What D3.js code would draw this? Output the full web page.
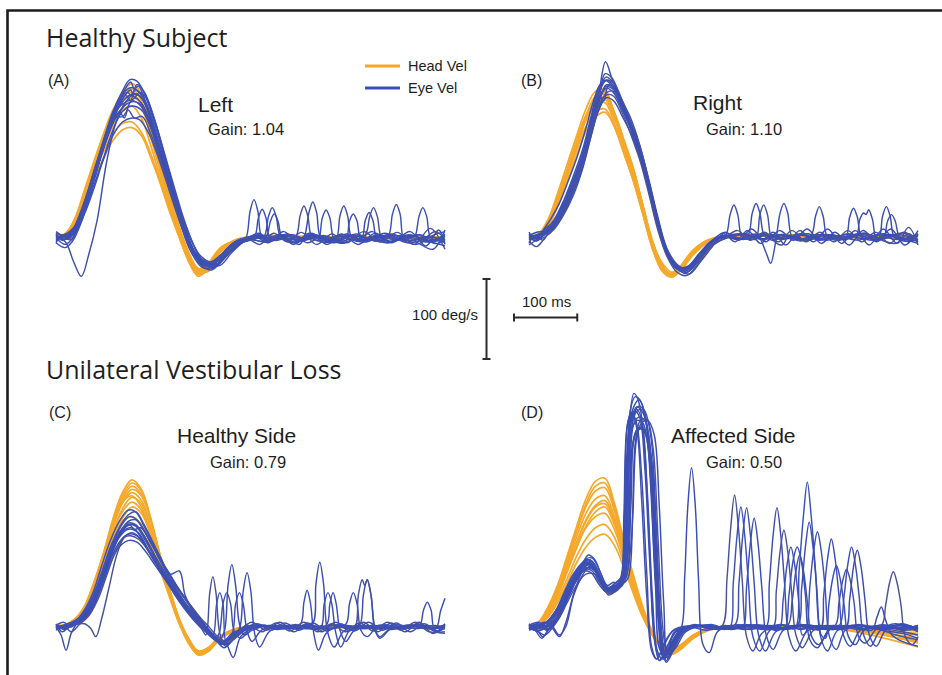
<!DOCTYPE html>
<html><head><meta charset="utf-8">
<script src="https://cdn.jsdelivr.net/npm/d3@7"></script>
<style>
html,body{margin:0;padding:0;background:#fff;}
svg{display:block;}
text{font-family:"Liberation Sans",Arial,Helvetica,sans-serif;fill:#1e1e1e;}
.grp{font-family:"Open Sans","Noto Sans",sans-serif;}
</style></head><body>
<svg id="chart" width="942" height="675"></svg>
<script>
// ---------------- DATA (time in ms, velocity in deg/s) ----------------
const groupTitles = ["Healthy Subject", "Unilateral Vestibular Loss"];
const panelLetters = ["(A)", "(B)", "(C)", "(D)"];
const panelTitles = ["Left", "Right", "Healthy Side", "Affected Side"];
const panelGains = ["1.04", "1.10", "0.79", "0.50"];
const legendLabels = ["Head Vel", "Eye Vel"];
const scaleBarVelocity = 100; // deg/s
const scaleBarTime = 100;     // ms

// shared sample times for head velocity traces
const headTime = [0,15,30,45,60,75,90,105,120,135,150,165,180,195,210,225,240,260,285,320,400,500,615];

const headA = [
  [3,5,22,55,90,125,158,182,193,180,140,95,52,12,-22,-45,-40,-18,-4,2,0,-1,0],
  [0,2,18,48,84,120,152,176,188,178,142,98,55,15,-18,-40,-42,-22,-6,0,2,0,1],
  [2,4,25,60,96,130,160,178,182,165,125,82,40,2,-30,-48,-38,-15,-2,3,1,0,-2],
  [-1,3,15,42,76,110,140,163,175,168,135,92,50,10,-25,-42,-35,-14,-3,1,-1,1,0],
  [1,6,24,56,88,118,145,160,165,150,115,75,35,0,-28,-44,-36,-16,-5,2,0,-1,1],
  [0,4,20,50,80,108,130,143,145,132,105,70,35,5,-20,-38,-34,-15,-2,1,2,0,0],
  [2,3,16,44,74,100,122,135,138,128,100,68,32,2,-24,-40,-32,-12,-3,0,0,1,-1],
  [1,3,20,52,86,122,154,176,186,172,134,90,48,8,-26,-46,-40,-17,-4,1,1,0,-1],
  [0,5,23,57,92,126,156,172,178,168,132,88,45,6,-24,-43,-37,-16,-3,2,0,1,0]
];
const headB = [
  [0,2,18,48,82,118,152,176,182,155,120,85,38,-8,-38,-50,-42,-22,-6,2,3,1,0],
  [2,4,22,54,90,126,160,182,184,152,112,76,30,-14,-42,-50,-38,-18,-4,3,2,0,1],
  [-2,1,14,42,76,112,146,168,175,150,116,80,36,-8,-36,-48,-40,-20,-5,1,2,-1,0],
  [0,3,18,46,80,114,146,164,168,142,106,70,28,-14,-40,-48,-36,-16,-3,2,1,0,-2],
  [1,2,15,42,76,108,138,156,160,138,104,70,30,-10,-36,-46,-36,-16,-4,1,2,1,1],
  [0,1,12,38,70,102,132,150,156,138,108,76,36,-6,-32,-44,-38,-18,-4,3,1,0,0],
  [1,3,20,50,84,120,152,172,178,154,118,84,40,-4,-34,-49,-41,-20,-5,2,2,1,-1],
  [0,2,16,44,78,114,148,170,180,156,122,86,40,-6,-36,-49,-40,-21,-6,2,2,1,1],
  [1,3,17,46,80,115,147,166,172,148,114,78,34,-10,-38,-48,-38,-18,-4,2,1,0,-1]
];
const headC = [
  [2,3,10,25,55,92,135,168,184,172,135,88,45,8,-18,-34,-30,-14,-3,1,0,-1,0],
  [0,2,8,22,50,86,128,160,176,166,132,88,46,10,-16,-32,-30,-15,-4,0,1,0,1],
  [1,2,9,24,52,88,126,155,168,158,124,82,42,6,-20,-35,-30,-13,-2,1,0,1,-1],
  [-1,1,7,20,46,80,118,148,162,154,122,82,44,8,-17,-33,-28,-12,-3,0,1,0,0],
  [0,3,10,26,56,92,130,156,164,150,116,76,38,4,-21,-34,-28,-12,-2,1,-1,0,1],
  [1,2,8,22,48,82,118,144,156,146,116,78,40,6,-18,-32,-28,-13,-3,0,0,0,-1],
  [0,1,6,18,42,74,110,136,150,142,114,78,42,8,-15,-30,-27,-12,-3,1,0,1,0],
  [0,2,8,20,44,78,112,132,138,128,102,70,36,4,-18,-30,-26,-11,-2,0,1,0,0],
  [1,2,9,24,53,90,132,164,180,170,134,88,44,6,-19,-35,-31,-14,-3,1,0,0,0],
  [0,2,7,21,47,84,124,156,172,164,132,88,46,10,-15,-31,-29,-14,-3,0,1,0,1]
];
const headD = [
  [0,6,25,52,88,125,160,182,186,155,108,65,25,-5,-25,-34,-28,-14,-4,0,-1,-3,-8],
  [1,5,22,48,82,118,150,170,174,145,100,60,22,-8,-26,-33,-27,-13,-3,0,0,-2,-14],
  [0,4,20,44,78,112,142,160,164,138,96,56,20,-8,-25,-32,-26,-12,-3,1,0,-1,-20],
  [-1,4,18,42,74,106,134,152,158,134,94,55,18,-9,-26,-32,-25,-11,-2,0,-1,-2,-2],
  [0,3,16,38,68,98,126,144,150,128,90,52,16,-10,-26,-31,-24,-11,-3,0,0,-4,-25],
  [1,5,20,42,70,100,124,138,142,122,86,50,15,-10,-25,-30,-24,-10,-2,1,0,-1,-5],
  [0,3,14,34,60,88,110,124,128,112,80,46,14,-10,-24,-29,-23,-10,-2,0,1,-1,0],
  [0,2,12,30,54,80,100,112,116,102,74,42,12,-10,-23,-28,-22,-10,-2,0,0,0,-3],
  [0,5,22,47,84,120,154,176,180,150,104,62,22,-8,-26,-34,-27,-13,-3,0,0,-2,-10],
  [1,4,18,40,72,104,132,150,154,131,92,54,17,-9,-25,-31,-25,-11,-2,0,0,-3,-18]
];

// Eye velocity traces: flat [t, v, t, v, ...]
const eyeA = [
  [0,3, 12,-2, 25,8, 40,35, 55,70, 70,108, 85,145, 100,172, 112,182, 120,178, 128,192, 140,182, 155,150, 170,108, 185,65, 200,22, 215,-12, 230,-30, 245,-35, 262,-22, 280,-6, 293,-1, 300,0, 307,34, 313,48, 319,34, 326,0, 340,-4, 365,5, 390,-3, 410,4, 440,-5, 470,3, 500,-2, 530,5, 560,-4, 590,2, 615,-6],
  [0,-4, 15,5, 30,10, 45,38, 60,75, 75,112, 90,148, 105,170, 120,180, 132,178, 145,160, 160,125, 175,85, 190,42, 205,5, 220,-22, 238,-38, 255,-30, 275,-12, 300,-3, 320,2, 329,2, 336,27, 342,38, 348,27, 355,2, 370,-3, 385,-8, 393,2, 400,32, 406,45, 412,32, 419,0, 440,-6, 465,2, 490,-3, 520,6, 545,-2, 570,-8, 595,3, 615,8],
  [0,5, 10,-3, 22,4, 35,20, 50,50, 65,90, 80,130, 95,160, 110,178, 118,172, 125,185, 138,175, 152,142, 167,100, 182,58, 197,18, 212,-15, 228,-33, 246,-40, 265,-26, 285,-9, 310,-2, 335,3, 360,-2, 379,2, 386,28, 392,40, 398,28, 405,0, 420,-4, 445,3, 470,-2, 489,4, 496,27, 502,38, 508,27, 515,0, 530,-5, 560,3, 590,-3, 615,4],
  [0,0, 15,-8, 28,2, 42,28, 58,68, 72,105, 88,140, 102,160, 118,170, 132,168, 146,148, 160,115, 176,75, 192,36, 208,0, 224,-24, 240,-32, 258,-25, 278,-8, 300,-1, 325,-4, 350,3, 375,-5, 400,2, 414,-3, 421,25, 427,35, 433,25, 440,-2, 455,-6, 480,3, 505,-4, 525,2, 532,30, 538,42, 544,30, 551,-3, 570,4, 600,-7, 615,-3],
  [0,2, 15,-5, 28,-30, 40,-48, 52,-20, 65,22, 80,95, 95,145, 110,170, 125,180, 138,172, 152,140, 167,98, 182,55, 198,15, 214,-18, 230,-36, 248,-38, 268,-20, 290,-5, 320,2, 345,-3, 370,4, 395,-2, 420,3, 442,-2, 449,28, 455,40, 461,28, 468,0, 490,-5, 515,3, 540,-2, 560,3, 567,2, 574,27, 580,38, 586,27, 593,0, 615,-4],
  [0,-2, 14,3, 28,12, 44,42, 60,80, 75,118, 90,155, 105,180, 118,195, 124,186, 130,190, 142,170, 156,135, 172,92, 188,48, 203,10, 218,-20, 234,-34, 252,-30, 272,-12, 295,-3, 320,4, 332,2, 339,21, 345,30, 351,21, 358,0, 380,-6, 405,3, 430,-4, 460,5, 482,-3, 489,22, 495,32, 501,22, 508,-2, 525,-6, 555,2, 585,-5, 615,3],
  [0,6, 15,2, 30,8, 45,32, 60,66, 75,100, 90,135, 105,158, 120,165, 135,160, 150,138, 165,100, 180,62, 196,24, 212,-10, 228,-28, 244,-30, 262,-20, 282,-6, 305,-1, 330,-5, 355,2, 380,-3, 405,4, 430,-2, 457,-6, 464,21, 470,30, 476,21, 483,-3, 505,2, 530,-4, 558,4, 585,-3, 615,-10],
  [0,-3, 15,4, 30,15, 46,45, 62,85, 78,125, 92,155, 106,168, 120,172, 134,165, 148,142, 163,105, 178,65, 194,28, 210,-6, 226,-26, 242,-36, 260,-30, 280,-14, 300,-4, 325,0, 350,-3, 375,3, 398,-6, 420,2, 445,-3, 475,5, 500,-2, 525,3, 555,-6, 580,-2, 600,8, 615,-2],
  [0,1, 15,-1, 30,6, 45,30, 60,62, 75,98, 90,128, 105,145, 120,150, 132,148, 146,132, 162,100, 178,62, 194,24, 210,-8, 226,-28, 244,-34, 262,-22, 282,-6, 308,2, 335,-2, 362,3, 388,-4, 412,2, 438,-3, 465,2, 492,-4, 520,3, 548,-2, 575,4, 600,-4, 615,2],
  [0,4, 15,-2, 30,10, 45,38, 60,76, 75,112, 90,146, 104,172, 118,185, 124,176, 132,182, 142,176, 155,150, 170,110, 186,66, 202,24, 218,-10, 234,-30, 252,-34, 272,-18, 295,-4, 320,3, 345,-2, 372,4, 398,-2, 424,3, 450,-4, 478,2, 505,-3, 532,4, 560,-3, 588,2, 615,-3],
  [0,-1, 15,2, 30,14, 45,44, 60,84, 75,122, 90,158, 104,182, 117,198, 128,196, 140,180, 154,148, 170,104, 186,58, 202,18, 218,-16, 234,-34, 252,-36, 272,-20, 295,-5, 313,0, 320,25, 326,36, 332,25, 339,0, 360,4, 385,-3, 410,2, 435,-5, 460,3, 485,-2, 510,4, 538,-3, 565,2, 592,-5, 615,5],
  [0,-6, 10,4, 20,-2, 32,14, 46,40, 60,72, 74,110, 88,140, 100,158, 108,150, 116,168, 126,175, 138,165, 152,138, 166,104, 180,70, 194,34, 208,2, 222,-20, 238,-30, 256,-32, 274,-18, 292,-6, 312,3, 335,-6, 355,4, 375,-8, 400,6, 425,-6, 452,5, 478,-8, 505,6, 530,-6, 560,8, 585,-10, 605,10, 615,-8],
  [0,8, 12,2, 25,-2, 38,22, 52,58, 66,96, 80,128, 94,150, 106,152, 114,160, 124,150, 136,152, 150,130, 165,96, 180,62, 196,30, 212,0, 228,-22, 244,-30, 262,-26, 280,-12, 300,0, 322,-8, 344,6, 366,-5, 388,7, 412,-8, 436,5, 460,-6, 486,8, 512,-5, 540,7, 566,-8, 592,12, 615,-14],
  [0,-6, 14,-12, 26,-4, 40,20, 54,56, 68,94, 82,132, 96,162, 110,184, 120,188, 134,180, 148,158, 162,120, 178,80, 194,40, 210,6, 226,-22, 242,-34, 260,-34, 278,-18, 298,-4, 320,6, 340,-2, 360,8, 382,-4, 405,6, 428,-8, 452,4, 476,-4, 500,8, 524,-6, 548,4, 572,-6, 596,-14, 615,10]
];
const eyeB = [
  [0,0, 12,-5, 25,4, 40,16, 55,36, 70,62, 85,98, 98,140, 110,178, 121,219, 132,196, 146,172, 160,150, 174,118, 188,74, 202,24, 216,-14, 232,-36, 248,-42, 265,-28, 285,-8, 300,-1, 311,2, 318,28, 324,40, 330,28, 337,0, 350,-3, 380,3, 410,-2, 440,4, 470,-4, 500,3, 530,-2, 560,4, 590,-3, 615,2],
  [0,-4, 12,2, 25,6, 40,14, 55,32, 70,60, 85,92, 98,132, 110,166, 122,190, 134,186, 148,160, 162,136, 176,106, 190,64, 204,18, 218,-18, 234,-38, 250,-40, 268,-24, 288,-6, 310,0, 330,-3, 346,2, 353,30, 359,42, 365,30, 372,2, 385,-4, 410,2, 440,-3, 470,3, 500,-2, 530,5, 552,-3, 559,26, 565,38, 571,26, 578,0, 600,-5, 615,4],
  [0,3, 12,-2, 25,10, 40,20, 55,44, 70,72, 85,104, 98,146, 110,182, 122,200, 134,192, 148,166, 162,140, 176,110, 190,68, 204,22, 218,-16, 234,-36, 250,-44, 268,-30, 288,-10, 310,-2, 335,4, 358,-3, 365,28, 371,40, 377,28, 384,-2, 400,-10, 412,2, 440,-4, 470,2, 500,-3, 530,4, 560,-2, 590,5, 615,-4],
  [0,-10, 12,-4, 25,0, 40,10, 55,28, 70,52, 85,86, 98,126, 110,160, 122,180, 134,182, 148,162, 162,134, 176,102, 190,60, 204,12, 218,-22, 234,-40, 250,-38, 268,-22, 288,-5, 310,2, 335,-2, 360,3, 375,-20, 382,-33, 390,-6, 397,30, 403,42, 409,30, 416,0, 430,-4, 455,3, 480,-2, 505,4, 530,-3, 560,3, 590,-2, 615,-5],
  [0,2, 12,6, 25,8, 40,22, 55,46, 70,76, 85,110, 98,150, 110,186, 120,196, 132,188, 146,164, 160,138, 174,106, 188,66, 202,20, 216,-18, 232,-38, 248,-40, 266,-26, 286,-8, 310,1, 340,4, 370,-2, 400,3, 425,-3, 446,2, 453,26, 459,38, 465,26, 472,0, 490,-4, 520,2, 550,-4, 580,3, 615,-3],
  [0,-3, 12,0, 25,5, 40,15, 55,34, 70,62, 85,95, 98,136, 110,170, 122,186, 134,180, 148,158, 162,132, 176,100, 190,58, 204,14, 218,-20, 234,-40, 250,-44, 268,-28, 288,-8, 310,0, 340,-2, 370,2, 400,-3, 430,2, 460,-2, 480,3, 500,-2, 507,25, 513,36, 519,25, 526,0, 545,-4, 575,3, 600,-6, 615,2],
  [0,1, 12,-2, 25,3, 40,12, 55,30, 70,56, 85,88, 98,126, 110,158, 122,174, 134,170, 148,150, 162,128, 176,98, 190,56, 204,12, 218,-20, 234,-36, 250,-38, 268,-24, 288,-6, 310,1, 340,-3, 370,4, 400,-2, 430,3, 460,-4, 490,2, 516,-3, 523,22, 529,30, 533,28, 537,34, 543,22, 550,-2, 570,3, 600,-4, 615,-8],
  [0,-2, 12,3, 25,7, 40,18, 55,40, 70,70, 85,104, 98,144, 110,178, 122,196, 134,192, 148,170, 162,142, 176,112, 190,70, 204,24, 218,-14, 234,-34, 250,-40, 268,-28, 288,-10, 310,-2, 340,3, 370,-3, 400,2, 430,-5, 460,3, 490,-3, 520,4, 550,-2, 580,-8, 600,4, 615,-6],
  [0,4, 12,0, 25,6, 40,16, 55,38, 70,66, 85,100, 98,140, 110,172, 122,188, 134,184, 148,162, 162,136, 176,104, 190,62, 204,16, 218,-18, 234,-38, 250,-42, 268,-26, 288,-6, 310,2, 340,-2, 370,3, 400,-2, 430,4, 460,-3, 490,2, 520,-4, 550,3, 580,-3, 615,3],
  [0,-1, 12,2, 25,4, 40,14, 55,32, 70,58, 85,92, 98,132, 110,168, 120,204, 132,198, 146,170, 160,142, 174,110, 188,68, 202,20, 216,-16, 232,-36, 248,-40, 266,-26, 286,-8, 310,0, 340,2, 370,-3, 400,3, 430,-2, 460,3, 490,-2, 520,3, 545,-3, 560,-2, 567,20, 573,28, 579,20, 586,0, 600,-3, 615,4],
  [0,-8, 10,2, 22,-4, 34,12, 48,30, 62,52, 76,82, 90,118, 102,156, 112,176, 118,170, 126,190, 138,182, 152,158, 166,130, 180,96, 194,54, 208,8, 222,-26, 238,-42, 254,-46, 272,-30, 290,-12, 308,4, 326,-6, 346,8, 366,-8, 386,6, 406,-10, 428,8, 450,-6, 472,10, 494,-8, 516,8, 538,-10, 560,10, 582,-8, 600,12, 615,-10],
  [0,6, 10,-4, 22,8, 34,22, 48,42, 62,70, 76,100, 90,136, 102,170, 112,190, 124,196, 136,186, 150,162, 164,134, 178,100, 192,58, 206,14, 220,-20, 236,-38, 252,-36, 270,-20, 290,-4, 310,6, 332,-4, 352,10, 374,-6, 396,8, 418,-4, 440,10, 462,-8, 484,6, 506,-10, 528,8, 550,-6, 572,10, 594,-10, 615,8],
  [0,-5, 12,-12, 24,-2, 36,10, 50,24, 64,46, 78,76, 92,112, 104,148, 114,170, 124,178, 134,176, 148,154, 162,126, 176,94, 190,52, 204,8, 218,-24, 234,-44, 250,-48, 268,-32, 288,-12, 308,-2, 330,8, 350,-4, 372,6, 394,-6, 416,8, 438,-6, 460,6, 482,-6, 504,8, 526,-6, 548,6, 570,-8, 592,6, 615,-6]
];
const eyeC = [
  [0,2, 14,-3, 28,4, 42,10, 56,22, 70,48, 84,82, 98,110, 112,126, 124,128, 136,118, 150,98, 164,78, 178,60, 192,42, 206,26, 220,10, 234,-4, 248,-14, 262,-20, 278,-12, 295,-2, 320,2, 350,-3, 380,2, 410,-2, 440,3, 470,-2, 500,2, 530,-3, 560,2, 590,-2, 615,1],
  [0,0, 8,-10, 16,-29, 24,-8, 34,5, 48,12, 62,30, 76,62, 90,96, 104,118, 118,124, 130,118, 144,100, 158,80, 172,62, 186,46, 200,30, 214,14, 228,2, 244,-10, 258,-16, 266,-6, 272,52, 278,78, 284,52, 290,4, 298,-10, 310,-4, 340,2, 370,-2, 400,3, 430,-3, 460,2, 490,-2, 520,3, 550,-2, 580,2, 615,-1],
  [0,-1, 15,2, 30,3, 45,4, 55,-2, 63,-12, 72,10, 84,50, 96,90, 108,112, 120,118, 132,112, 146,95, 160,76, 174,58, 188,40, 202,24, 216,10, 230,-2, 237,-10, 243,42, 248,63, 253,42, 259,-8, 268,-24, 280,-14, 296,-3, 320,2, 350,-2, 380,3, 410,-3, 440,2, 470,-2, 500,2, 530,-2, 560,3, 590,-2, 615,2],
  [0,3, 15,0, 30,6, 44,14, 58,32, 72,60, 86,92, 100,116, 114,132, 126,134, 138,122, 152,102, 166,82, 180,64, 194,46, 208,30, 222,14, 236,0, 248,-10, 254,29, 259,43, 264,29, 270,-22, 282,-14, 300,-3, 330,2, 360,-2, 386,3, 392,31, 397,46, 402,31, 408,-10, 415,-29, 427,-8, 450,2, 480,-2, 510,2, 540,-2, 570,3, 600,-2, 615,2],
  [0,-2, 15,3, 30,8, 44,18, 58,38, 72,68, 86,100, 100,124, 114,140, 126,144, 138,130, 152,108, 166,86, 180,66, 195,70, 204,40, 218,18, 232,2, 246,-10, 262,-22, 278,-10, 284,29, 290,43, 296,29, 302,-5, 310,-18, 325,-4, 350,2, 380,-2, 405,3, 411,54, 417,81, 423,54, 429,-5, 440,-25, 454,-6, 480,2, 510,-2, 540,3, 570,-2, 600,2, 615,-2],
  [0,1, 15,-2, 30,5, 44,12, 58,30, 72,58, 86,90, 100,112, 114,122, 126,120, 140,104, 154,86, 168,68, 182,52, 196,36, 210,20, 224,6, 238,-6, 252,-16, 266,-22, 280,-10, 290,-2, 296,45, 302,68, 308,45, 314,-8, 322,-25, 337,-6, 360,2, 390,-2, 427,2, 433,29, 438,43, 443,29, 449,-4, 458,-18, 472,-4, 500,2, 530,-2, 560,2, 575,2, 581,21, 587,31, 593,21, 599,-4, 615,-2],
  [0,0, 15,2, 30,4, 44,10, 58,26, 72,52, 86,84, 100,106, 114,116, 128,114, 142,100, 156,82, 170,64, 184,48, 198,32, 212,16, 226,4, 240,-8, 254,-18, 268,-20, 280,-38, 292,-12, 310,-2, 340,2, 370,-2, 400,2, 430,-2, 458,3, 464,29, 470,43, 476,29, 482,-4, 492,-12, 510,2, 540,-2, 570,2, 600,-2, 608,20, 615,36],
  [0,2, 15,-1, 30,6, 44,16, 58,34, 72,64, 86,96, 100,118, 114,130, 126,128, 138,116, 152,96, 166,76, 180,58, 194,42, 208,26, 222,12, 236,0, 250,-12, 264,-20, 278,-10, 296,-2, 320,3, 350,-2, 380,2, 410,-3, 440,2, 471,-2, 478,40, 484,59, 488,52, 492,59, 498,40, 505,-4, 512,-12, 528,-2, 555,2, 585,-2, 615,1],
  [0,-1, 15,3, 30,7, 44,20, 58,42, 72,76, 86,108, 100,132, 114,146, 126,144, 138,128, 152,106, 166,84, 180,66, 194,48, 208,32, 222,16, 236,2, 250,-10, 264,-18, 278,-8, 296,-2, 325,2, 355,-2, 385,2, 415,-2, 445,3, 475,-2, 505,2, 535,-2, 565,2, 595,-2, 615,0],
  [0,1, 15,-1, 30,3, 44,8, 58,24, 72,50, 86,80, 100,100, 114,108, 128,106, 142,94, 156,78, 170,62, 184,46, 198,30, 212,16, 226,4, 240,-6, 252,-14, 258,-8, 264,29, 270,43, 276,29, 282,-6, 292,-14, 307,-3, 330,2, 360,-2, 390,2, 418,-2, 424,29, 430,43, 436,29, 442,-6, 450,-25, 464,-4, 480,2, 486,40, 492,59, 498,40, 504,-3, 512,-14, 530,-2, 560,2, 590,-2, 615,3],
  [0,-3, 15,0, 30,5, 44,14, 58,34, 72,62, 86,94, 100,118, 114,128, 126,126, 140,110, 154,90, 168,70, 182,54, 196,38, 210,24, 224,8, 238,-4, 252,-14, 266,-22, 280,-16, 300,-4, 330,2, 360,-2, 390,2, 410,-3, 420,2, 428,-2, 456,2, 486,-2, 516,2, 546,-2, 576,3, 600,-6, 615,-8],
  [0,4, 10,-6, 22,2, 36,8, 50,18, 64,40, 78,72, 92,102, 106,122, 116,128, 124,122, 134,124, 148,108, 162,88, 176,70, 190,52, 204,36, 218,20, 232,6, 246,-8, 260,-18, 274,-14, 290,-4, 310,6, 332,-4, 354,6, 376,-6, 398,5, 420,-6, 442,6, 464,-5, 486,6, 508,-6, 530,5, 552,-6, 574,6, 596,-8, 615,4],
  [0,-4, 12,2, 24,-6, 38,4, 52,14, 66,34, 80,64, 94,94, 108,112, 118,114, 130,110, 144,98, 158,84, 172,68, 186,54, 200,40, 214,26, 228,12, 242,0, 256,-12, 270,-18, 286,-8, 304,2, 326,-6, 348,5, 370,-5, 392,6, 414,-6, 436,4, 458,-6, 480,5, 502,-5, 524,6, 546,-4, 568,6, 590,-6, 615,-6],
  [0,2, 12,6, 24,0, 38,12, 52,26, 66,50, 80,84, 94,112, 106,130, 116,138, 128,134, 140,120, 154,100, 168,78, 182,58, 196,40, 210,22, 224,8, 238,-6, 252,-16, 266,-26, 282,-14, 298,-2, 318,4, 340,-4, 362,5, 384,-4, 406,5, 428,-5, 450,4, 472,-5, 494,6, 516,-4, 538,5, 560,-6, 582,4, 604,-6, 615,2]
];
const eyeD = [
  [0,2, 12,-3, 22,-12, 32,-2, 45,10, 60,35, 75,62, 90,85, 100,86, 112,70, 124,50, 136,52, 146,58, 152,110, 158,250, 166,292, 174,280, 182,230, 190,110, 198,-10, 206,-42, 218,-25, 232,-6, 255,0, 280,-4, 310,2, 340,-3, 370,2, 400,-2, 430,3, 460,-1, 490,2, 520,-3, 550,0, 580,-2, 615,0],
  [0,-2, 15,2, 30,5, 48,-12, 58,5, 72,45, 86,72, 96,80, 108,68, 120,45, 132,50, 144,55, 150,100, 156,230, 164,272, 174,284, 184,262, 192,180, 200,50, 208,-30, 218,-34, 228,-8, 240,-2, 246,60, 251,150, 257,199, 263,150, 268,60, 275,-22, 285,-32, 298,-6, 320,2, 350,-3, 380,2, 410,-2, 440,3, 470,-2, 500,1, 530,-3, 560,2, 590,-4, 615,-2],
  [0,0, 15,-4, 30,3, 45,18, 60,42, 75,66, 90,80, 102,76, 114,56, 126,42, 138,48, 148,58, 155,110, 161,240, 169,268, 179,272, 189,240, 197,140, 205,20, 213,-40, 225,-24, 240,-4, 260,2, 290,-3, 306,2, 313,60, 319,125, 325,165, 331,125, 337,60, 344,-12, 354,-30, 368,-8, 395,3, 430,-2, 460,2, 490,-3, 520,2, 550,-2, 580,-10, 615,-16],
  [0,3, 15,0, 30,8, 45,24, 60,48, 75,70, 90,84, 100,82, 112,62, 124,46, 136,50, 146,62, 151,140, 156,255, 162,268, 170,250, 178,160, 186,40, 194,-30, 202,-40, 214,-22, 228,-5, 260,0, 290,3, 316,-2, 323,55, 329,115, 335,150, 341,115, 347,55, 354,-12, 365,-30, 380,-5, 400,2, 420,-2, 427,70, 434,140, 440,181, 446,140, 453,70, 461,-12, 472,-30, 488,-4, 520,2, 550,-3, 580,0, 615,-4],
  [0,-1, 15,-6, 25,-10, 38,0, 50,15, 64,40, 78,62, 92,74, 104,70, 116,52, 128,44, 140,52, 150,66, 156,170, 162,258, 170,275, 180,268, 190,230, 198,120, 206,10, 214,-40, 226,-26, 242,-6, 270,2, 300,-2, 325,2, 332,55, 338,115, 344,149, 350,115, 356,55, 363,-10, 374,-30, 390,-6, 420,2, 450,-3, 484,2, 490,30, 496,58, 502,72, 508,58, 514,30, 521,-12, 532,-20, 550,-2, 580,2, 615,-3],
  [0,2, 15,6, 30,0, 45,12, 60,38, 75,60, 88,72, 100,70, 112,55, 124,48, 136,55, 148,64, 156,150, 162,245, 170,258, 180,255, 190,210, 198,90, 206,0, 214,-34, 226,-22, 240,-6, 260,3, 290,-2, 320,2, 337,-2, 344,50, 350,105, 356,136, 362,105, 368,50, 375,-10, 386,-28, 402,-4, 430,2, 460,-3, 466,40, 472,85, 478,110, 484,85, 490,40, 497,-10, 508,-24, 524,-4, 555,2, 585,-2, 615,2],
  [0,-3, 15,1, 30,6, 45,20, 60,45, 75,68, 90,82, 102,80, 114,60, 126,48, 138,52, 148,62, 154,150, 160,258, 167,270, 175,262, 183,200, 191,80, 199,-20, 207,-42, 219,-24, 235,-4, 265,2, 300,-3, 340,2, 373,-2, 380,55, 386,115, 392,149, 398,115, 404,55, 411,-12, 422,-30, 440,-5, 470,2, 500,-2, 507,35, 513,75, 519,96, 525,75, 531,35, 538,-10, 549,-24, 565,-3, 595,2, 615,-2],
  [0,1, 15,-2, 30,4, 45,16, 60,40, 75,64, 90,78, 102,74, 114,54, 126,40, 138,46, 150,58, 158,120, 164,230, 172,248, 182,244, 192,200, 200,80, 208,-10, 216,-38, 228,-22, 242,-4, 270,2, 300,-2, 340,3, 384,-2, 391,45, 397,95, 403,121, 409,95, 415,45, 422,-10, 432,-26, 450,-4, 480,2, 520,-2, 557,2, 564,28, 570,55, 576,69, 582,55, 588,28, 595,-12, 606,-22, 615,-12],
  [0,0, 15,3, 30,-2, 45,10, 60,34, 75,58, 90,74, 104,72, 116,54, 128,46, 140,50, 152,66, 159,170, 165,252, 173,262, 183,258, 193,215, 201,100, 209,-5, 217,-42, 229,-24, 245,-4, 275,2, 310,-2, 350,2, 380,-2, 395,-4, 402,35, 408,78, 414,100, 420,78, 426,35, 432,-10, 438,-6, 444,50, 450,95, 456,119, 462,95, 468,50, 475,-12, 486,-28, 500,-4, 530,2, 560,-4, 590,-8, 615,-14],
  [0,-2, 15,2, 30,7, 45,22, 60,46, 75,68, 90,80, 100,76, 112,58, 124,48, 136,54, 145,62, 150,140, 155,250, 162,268, 170,255, 178,190, 186,70, 194,-25, 202,-40, 214,-20, 230,-3, 265,2, 300,-3, 340,2, 380,-2, 409,2, 416,32, 422,70, 428,90, 434,70, 440,32, 447,-12, 458,-22, 476,-3, 491,2, 498,38, 504,78, 510,100, 516,78, 522,38, 529,-10, 540,-24, 556,-4, 585,2, 615,-1],
  [0,2, 15,-1, 30,2, 45,14, 60,38, 75,62, 90,80, 102,78, 114,58, 126,44, 138,50, 149,60, 155,170, 160,270, 168,288, 178,280, 188,240, 196,130, 204,10, 212,-36, 224,-22, 240,-4, 270,2, 310,-2, 350,2, 390,-3, 424,2, 431,48, 437,100, 443,131, 449,100, 455,48, 462,-10, 469,-14, 474,28, 480,60, 486,77, 492,60, 498,28, 505,-12, 516,-22, 530,-4, 560,2, 590,-3, 615,0],
  [0,-1, 15,-5, 30,1, 45,12, 58,36, 72,58, 86,70, 98,68, 110,54, 122,44, 134,48, 146,56, 156,90, 163,220, 171,245, 181,248, 191,220, 199,120, 207,10, 215,-36, 227,-20, 243,-3, 275,2, 310,-2, 350,3, 390,-2, 430,2, 470,-3, 510,2, 542,-4, 550,12, 557,25, 564,8, 574,-10, 590,-18, 615,-24],
  [0,1, 15,3, 30,-3, 45,8, 60,30, 75,52, 90,66, 104,66, 116,52, 128,42, 140,46, 152,58, 162,110, 168,230, 176,258, 186,260, 196,225, 204,110, 212,-5, 220,-40, 232,-22, 248,-4, 280,1, 320,-2, 360,2, 400,-2, 440,2, 480,-2, 520,3, 560,-2, 590,-6, 615,-10],
  [0,4, 10,-4, 20,-14, 30,-4, 42,8, 56,30, 70,56, 84,78, 94,90, 104,84, 114,66, 124,52, 134,56, 144,50, 152,72, 158,200, 165,262, 173,276, 183,270, 193,236, 201,130, 209,0, 217,-44, 229,-28, 245,-6, 278,2, 310,-3, 340,3, 370,-2, 400,3, 430,-3, 460,2, 490,-3, 520,3, 550,-2, 580,4, 615,-6],
  [0,-4, 12,0, 24,6, 36,2, 48,-10, 58,0, 70,38, 84,64, 96,76, 108,70, 120,52, 132,46, 144,54, 154,64, 161,150, 167,240, 175,250, 185,242, 195,200, 203,70, 211,-20, 219,-38, 231,-20, 247,-2, 280,2, 320,-3, 360,2, 400,-3, 440,2, 480,-3, 520,2, 560,-3, 590,4, 615,-4],
  [0,2, 14,-2, 28,6, 42,20, 56,44, 70,66, 84,80, 96,84, 108,72, 120,52, 132,48, 144,56, 150,80, 156,210, 163,262, 171,272, 179,255, 187,170, 195,40, 203,-30, 211,-40, 223,-22, 239,-4, 270,2, 300,-2, 330,3, 360,-2, 390,2, 404,-3, 411,40, 418,85, 424,100, 430,85, 437,40, 444,-16, 456,-26, 474,-4, 500,2, 530,-2, 560,3, 590,-2, 615,2],
  [0,-2, 14,4, 28,-4, 42,6, 56,28, 70,54, 84,72, 96,78, 108,66, 120,50, 132,44, 144,52, 156,60, 164,140, 170,235, 178,255, 188,258, 198,240, 206,150, 213,30, 220,-34, 232,-26, 248,-6, 280,2, 320,-2, 360,3, 400,-2, 440,2, 480,-3, 520,2, 560,-2, 590,3, 615,-2]
];

// ---------------- DRAWING ----------------
const W = 942, H = 675;
const HEAD_COLOR = "#F5A82A";
const EYE_COLORS = ["#3B4FB6", "#3A4DB2", "#4A5399", "#3C52BA", "#3F4FAE"];

const svg = d3.select("#chart");
svg.append("rect").attr("width", W).attr("height", H).attr("fill", "#fff");
svg.append("path").attr("d", "M7.5,675 V10.5 H942")
  .attr("fill", "none").attr("stroke", "#1c1c1c").attr("stroke-width", 2.6);

const pxPerMs = (445 - 56) / 615;   // horizontal scale shared by all panels
const pxPerDeg = 0.8;               // vertical scale shared by all panels

const layout = [
  {x0: 56,  base: 238, head: headA, eye: eyeA, letter: [48, 86],  title: [198, 112], gain: [208, 135]},
  {x0: 529, base: 237, head: headB, eye: eyeB, letter: [521, 86], title: [693, 110], gain: [706, 135]},
  {x0: 56,  base: 627, head: headC, eye: eyeC, letter: [49, 418], title: [177, 443], gain: [210, 468]},
  {x0: 529, base: 627, head: headD, eye: eyeD, letter: [521, 418], title: [671, 443], gain: [706, 468]}
];

layout.forEach((p, i) => {
  const x = d3.scaleLinear().domain([0, 615]).range([p.x0, p.x0 + 615 * pxPerMs]);
  const y = d3.scaleLinear().domain([0, 100]).range([p.base, p.base - 100 * pxPerDeg]);
  const line = d3.line().x(d => x(d[0])).y(d => y(d[1])).curve(d3.curveCatmullRom.alpha(0.5));
  const g = svg.append("g");

  g.selectAll("path.head").data(p.head).join("path").attr("class", "head")
    .attr("d", vals => line(headTime.map((t, k) => [t, vals[k]])))
    .attr("fill", "none").attr("stroke", HEAD_COLOR).attr("stroke-width", 1.7)
    .attr("stroke-linejoin", "round");

  g.selectAll("path.eye").data(p.eye).join("path").attr("class", "eye")
    .attr("d", arr => line(d3.range(0, arr.length - 1, 2).map(k => [arr[k], arr[k + 1]])))
    .attr("fill", "none").attr("stroke", (d, k) => EYE_COLORS[k % EYE_COLORS.length])
    .attr("stroke-width", 1.45).attr("stroke-linejoin", "round");

  svg.append("text").attr("x", p.letter[0]).attr("y", p.letter[1])
    .attr("font-size", 16).text(panelLetters[i]);
  svg.append("text").attr("x", p.title[0]).attr("y", p.title[1])
    .attr("font-size", 21).text(panelTitles[i]);
  svg.append("text").attr("x", p.gain[0]).attr("y", p.gain[1])
    .attr("font-size", 16.5).text("Gain: " + panelGains[i]);
});

// group titles
svg.append("text").attr("class", "grp").attr("x", 46).attr("y", 47)
  .attr("font-size", 25).text(groupTitles[0]);
svg.append("text").attr("class", "grp").attr("x", 46).attr("y", 379)
  .attr("font-size", 25).text(groupTitles[1]);

// legend
const legColors = [HEAD_COLOR, EYE_COLORS[0]];
legendLabels.forEach((lab, i) => {
  const ly = 66 + i * 22;
  svg.append("line").attr("x1", 365).attr("x2", 400).attr("y1", ly).attr("y2", ly)
    .attr("stroke", legColors[i]).attr("stroke-width", 3.2);
  svg.append("text").attr("x", 408).attr("y", ly + 5).attr("font-size", 14.5).text(lab);
});

// scale bars
const barV = d3.scaleLinear().domain([0, scaleBarVelocity]).range([359, 359 - scaleBarVelocity * pxPerDeg]);
const barT = d3.scaleLinear().domain([0, scaleBarTime]).range([514, 514 + scaleBarTime * pxPerMs]);
const bar = svg.append("g").attr("stroke", "#2a2a2a").attr("stroke-width", 2);
bar.append("line").attr("x1", 486.5).attr("x2", 486.5).attr("y1", barV(0)).attr("y2", barV(scaleBarVelocity));
bar.append("line").attr("x1", 482.5).attr("x2", 490.5).attr("y1", barV(0)).attr("y2", barV(0));
bar.append("line").attr("x1", 482.5).attr("x2", 490.5).attr("y1", barV(scaleBarVelocity)).attr("y2", barV(scaleBarVelocity));
bar.append("line").attr("x1", barT(0)).attr("x2", barT(scaleBarTime)).attr("y1", 317.5).attr("y2", 317.5);
bar.append("line").attr("x1", barT(0)).attr("x2", barT(0)).attr("y1", 313.5).attr("y2", 321.5);
bar.append("line").attr("x1", barT(scaleBarTime)).attr("x2", barT(scaleBarTime)).attr("y1", 313.5).attr("y2", 321.5);
svg.append("text").attr("x", 478).attr("y", 320).attr("text-anchor", "end")
  .attr("font-size", 15).text(scaleBarVelocity + " deg/s");
svg.append("text").attr("x", (barT(0) + barT(scaleBarTime)) / 2 + 1).attr("y", 307).attr("text-anchor", "middle")
  .attr("font-size", 15).text(scaleBarTime + " ms");
</script>
</body></html>
